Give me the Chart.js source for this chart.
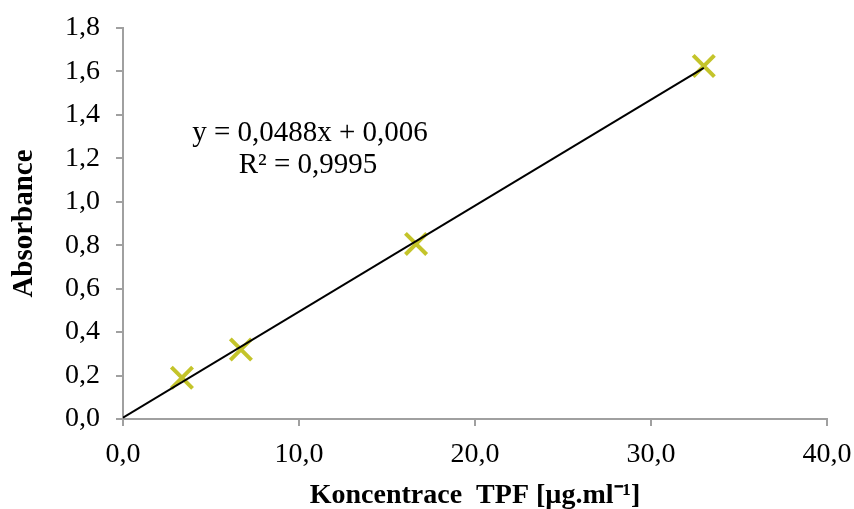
<!DOCTYPE html>
<html>
<head>
<meta charset="utf-8">
<script src="https://cdn.jsdelivr.net/npm/chart.js@4/dist/chart.umd.min.js"></script>
<style>
html,body{margin:0;padding:0;background:#fff;}
#wrap{width:854px;height:509px;position:relative;}
</style>
</head>
<body>
<div id="wrap"><canvas id="c" width="854" height="509"></canvas></div>
<script>
// Data
const concentrations = [3.35, 6.7, 16.65, 33.0];
const absorbances = [0.19, 0.32, 0.806, 1.625];
const trendX = [0, 33.0];
const trendY = [0.006, 1.616];
const xTickLabels = ['0,0', '10,0', '20,0', '30,0', '40,0'];
const yTickLabels = ['0,0', '0,2', '0,4', '0,6', '0,8', '1,0', '1,2', '1,4', '1,6', '1,8'];
const equationLines = ['y = 0,0488x + 0,006', 'R² = 0,9995'];
const xTitle = 'Koncentrace  TPF [µg.ml⁻¹]';
const yTitle = 'Absorbance';

const axisColor = '#a0a0a0';
const markColor = '#c4c42a';
const serif = '"Liberation Serif", "Times New Roman", serif';

const eqPlugin = {
  id: 'eq',
  afterDraw(chart) {
    const ctx = chart.ctx;
    ctx.save();
    ctx.fillStyle = '#000';
    ctx.font = '29px ' + serif;
    ctx.textAlign = 'center';
    ctx.textBaseline = 'alphabetic';
    ctx.fillText(equationLines[0], 310, 141);
    ctx.fillText(equationLines[1], 308, 173);
    ctx.restore();
  }
};

new Chart(document.getElementById('c'), {
  type: 'scatter',
  data: {
    datasets: [
      {
        type: 'line',
        label: 'trend',
        data: trendX.map((x, i) => ({x: x, y: trendY[i]})),
        borderColor: '#000',
        borderWidth: 2,
        pointRadius: 0,
        fill: false,
        order: 0
      },
      {
        label: 'Absorbance',
        data: concentrations.map((x, i) => ({x: x, y: absorbances[i]})),
        pointStyle: 'crossRot',
        pointRadius: 15,
        pointBorderWidth: 4,
        borderColor: markColor,
        backgroundColor: markColor,
        pointHoverRadius: 15,
        order: 1
      }
    ]
  },
  options: {
    responsive: false,
    animation: false,
    events: [],
    layout: {padding: {top: 28, right: 27, left: 0, bottom: 0}},
    plugins: {legend: {display: false}, tooltip: {enabled: false}},
    scales: {
      x: {
        type: 'linear',
        min: 0, max: 40,
        afterFit(s) { s.height = 90; s.paddingLeft = 0; s.paddingRight = 0; },
        ticks: {
          stepSize: 10,
          padding: 12,
          color: '#000',
          font: {family: serif, size: 28},
          maxRotation: 0,
          callback: (v, i) => xTickLabels[i]
        },
        grid: {display: true, drawOnChartArea: false, drawTicks: true, tickLength: 7, color: axisColor, lineWidth: 2},
        border: {display: true, color: axisColor, width: 2},
        title: {display: true, text: xTitle, color: '#000', font: {family: serif, size: 28, weight: 'bold'}, padding: {top: 0, bottom: -4}}
      },
      y: {
        type: 'linear',
        min: 0, max: 1.8,
        afterFit(s) { s.width = 123; s.paddingTop = 0; s.paddingBottom = 0; },
        ticks: {
          stepSize: 0.2,
          padding: 16,
          color: '#000',
          font: {family: serif, size: 28},
          callback: (v, i) => yTickLabels[i]
        },
        grid: {display: true, drawOnChartArea: false, drawTicks: true, tickLength: 7, color: axisColor, lineWidth: 2},
        border: {display: true, color: axisColor, width: 2},
        title: {display: true, text: yTitle, color: '#000', font: {family: serif, size: 29, weight: 'bold'}, padding: {top: 7, bottom: 0}}
      }
    }
  },
  plugins: [eqPlugin]
});
</script>
</body>
</html>
